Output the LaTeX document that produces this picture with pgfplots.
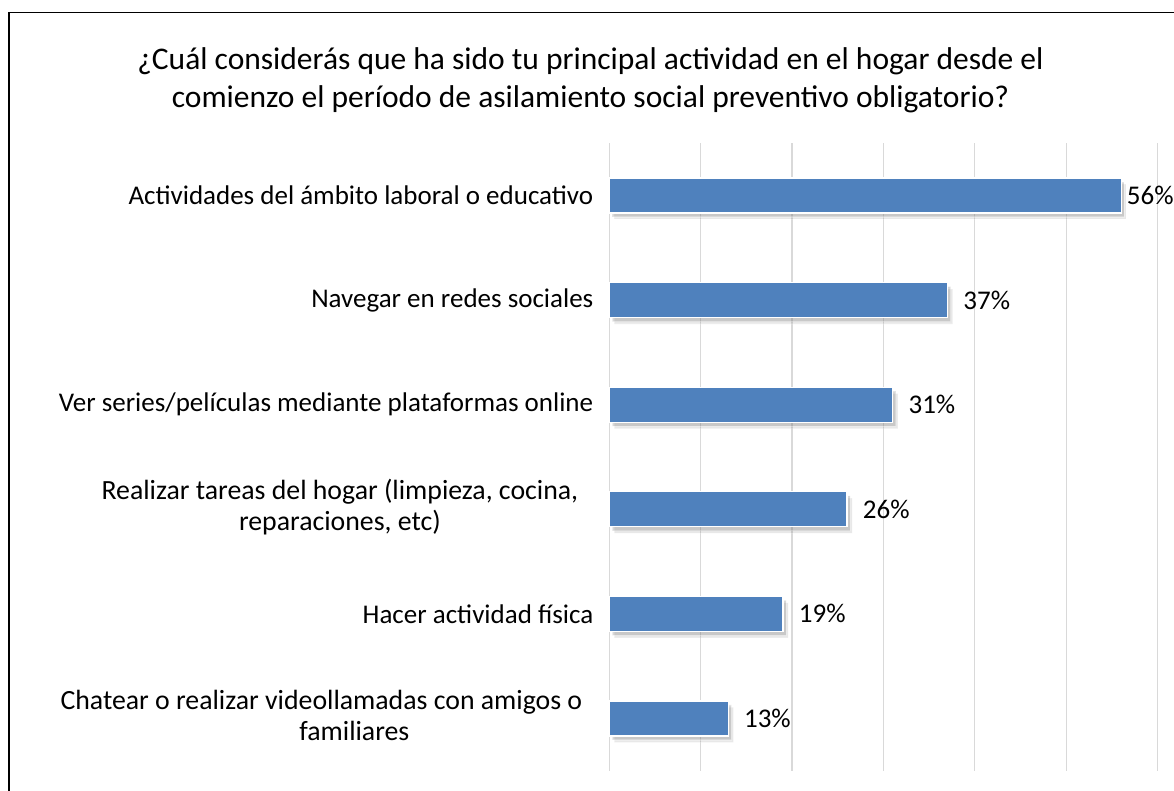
\documentclass[border=0pt]{standalone}
\usepackage{fontspec}
\setmainfont{Carlito}
\usepackage{pgfplots}
\pgfplotsset{compat=1.18}
\usetikzlibrary{shadows}
\definecolor{barblue}{HTML}{4F81BD}
\definecolor{gridgray}{HTML}{D9D9D9}
\newcommand{\mlfont}{\fontsize{13.9}{15.5}\selectfont}
\begin{document}
\begin{tikzpicture}
\useasboundingbox (0,0) rectangle (587pt,395.5pt);
\clip (0,0) rectangle (587pt,395.5pt);
\fill[white] (0,0) rectangle (587pt,395.5pt);
\draw[black, line width=0.6pt] (4.5pt,-10pt) -- (4.5pt,389.35pt) -- (600pt,389.35pt);
\node[font=\fontsize{15.75}{19}\selectfont, anchor=base] at (295.25pt,360.75pt) {¿Cuál considerás que ha sido tu principal actividad en el hogar desde el};
\node[font=\fontsize{15.75}{19}\selectfont, anchor=base] at (295.25pt,341.75pt) {comienzo el período de asilamiento social preventivo obligatorio?};
\begin{axis}[
  at={(304.65pt,10.15pt)}, anchor=south west,
  scale only axis, width=274.2pt, height=313.7pt,
  xbar, bar width=17.5pt, bar shift=0pt,
  xmin=0, xmax=60, ymin=-0.5, ymax=5.5,
  y dir=reverse,
  xtick={0,10,...,60}, xticklabels={},
  xmajorgrids, grid style={gridgray, line width=0.6pt},
  ytick={0,...,5},
  yticklabels={Actividades del ámbito laboral o educativo,
    Navegar en redes sociales,
    Ver series/películas mediante plataformas online,
    {\mlfont\begin{tabular}{@{}c@{}}Realizar tareas del hogar (limpieza, cocina,\\reparaciones, etc)\end{tabular}\kern7.5pt},
    Hacer actividad física,
    {\mlfont\begin{tabular}{@{}c@{}}Chatear o realizar videollamadas con amigos o\\\hspace*{33pt}familiares\end{tabular}\kern5.5pt}},
  yticklabel style={font=\fontsize{13.5}{15.5}\selectfont, xshift=-4.5pt},
  axis line style={draw=none},
  major tick length=0pt,
  point meta=x,
  /pgf/number format/assume math mode=true,
  nodes near coords={\pgfmathprintnumber{\pgfplotspointmeta}\%},
  nodes near coords style={font=\fontsize{13.5}{15.5}\selectfont, anchor=west, text=black},
  clip=false,
]
\addplot[fill=barblue, draw=white, line width=0.6pt,
  drop shadow={shadow xshift=2.6pt, shadow yshift=-3.2pt, opacity=0.18},
  drop shadow={shadow xshift=1.6pt, shadow yshift=-2pt, opacity=0.3},
  nodes near coords style={xshift=-0.7pt}] coordinates {(56,0)};
\addplot[fill=barblue, draw=white, line width=0.6pt,
  drop shadow={shadow xshift=2.6pt, shadow yshift=-3.2pt, opacity=0.18},
  drop shadow={shadow xshift=1.6pt, shadow yshift=-2pt, opacity=0.3},
  nodes near coords style={xshift=4.35pt}] coordinates {(37,1) (31,2) (26,3) (19,4) (13,5)};
\end{axis}
\end{tikzpicture}
\end{document}
